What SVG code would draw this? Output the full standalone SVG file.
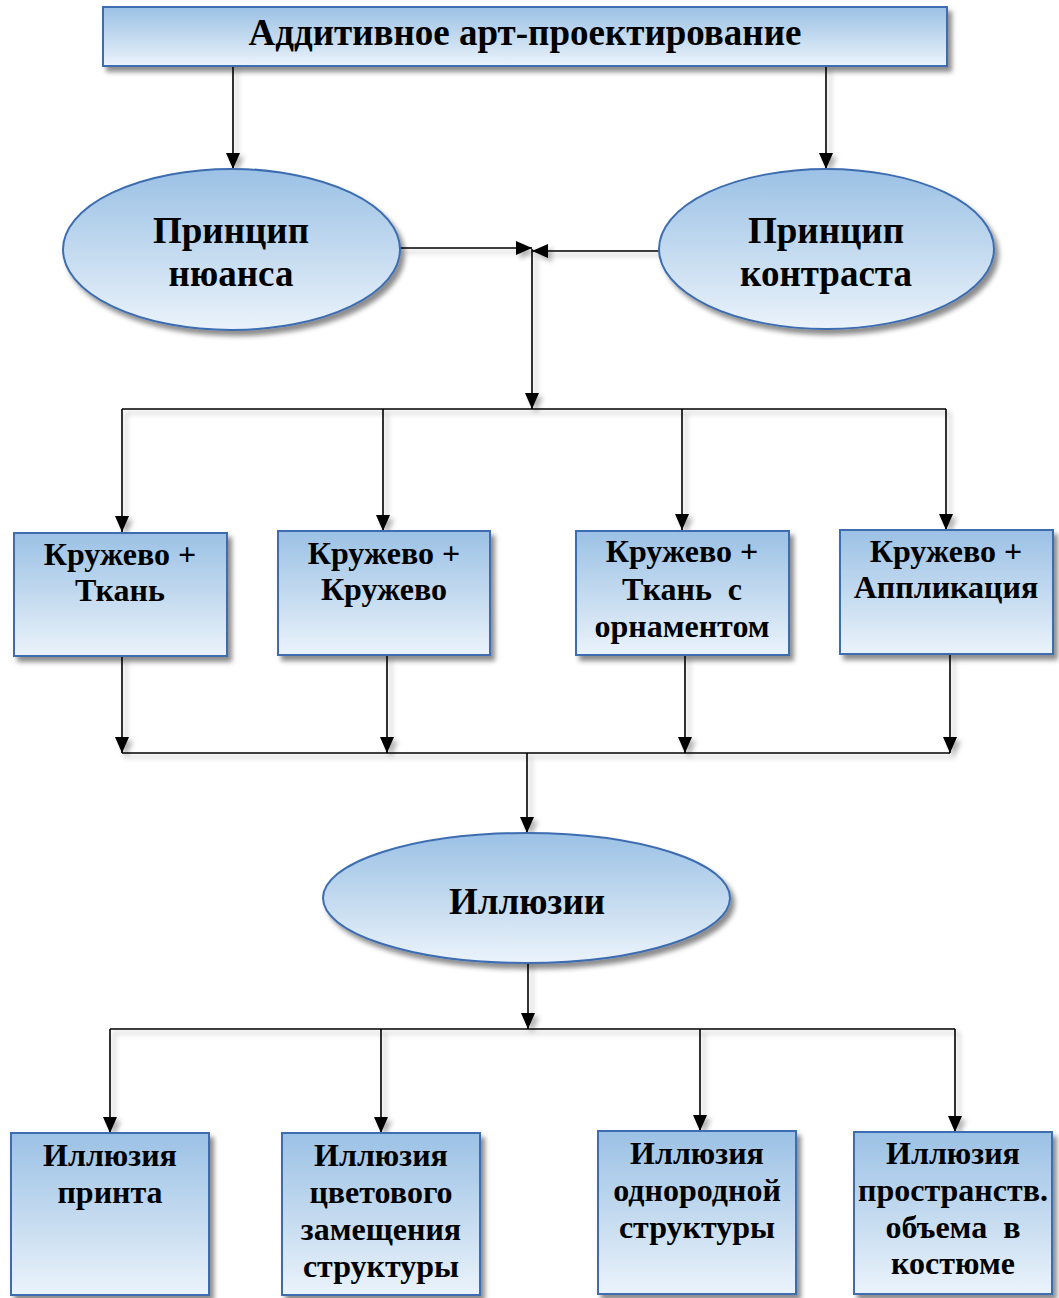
<svg xmlns="http://www.w3.org/2000/svg" width="1059" height="1298" viewBox="0 0 1059 1298">
  <defs>
    <linearGradient id="fill" x1="0" y1="0" x2="0" y2="1">
      <stop offset="0" stop-color="#9bc1e5"/>
      <stop offset="0.55" stop-color="#c6dcf0"/>
      <stop offset="1" stop-color="#ebf3fb"/>
    </linearGradient>
    <filter id="shadow" x="-10%" y="-10%" width="125%" height="130%">
      <feDropShadow dx="4" dy="5" stdDeviation="2.5" flood-color="#000" flood-opacity="0.45"/>
    </filter>
    <filter id="lineShadow" x="-5%" y="-5%" width="110%" height="110%">
      <feDropShadow dx="4" dy="4" stdDeviation="2.5" flood-color="#000" flood-opacity="0.3"/>
    </filter>
    <marker id="arrow" viewBox="0 0 16 14" refX="16" refY="7" markerWidth="16" markerHeight="14" markerUnits="userSpaceOnUse" orient="auto">
      <path d="M0,0 L16,7 L0,14 Z" fill="#000"/>
    </marker>
  </defs>
  <style>
    .shape { fill: url(#fill); stroke: #3d6db0; stroke-width: 2; filter: url(#shadow); }
    .lbl { font-family: "Liberation Serif", "Times New Roman", serif; font-weight: bold; fill: #000; text-anchor: middle; white-space: pre; }
    .big { font-size: 37px; }
    .mid { font-size: 32px; }
    .conn line { stroke: #000; stroke-width: 1.6; fill: none; }
  </style>

  <rect width="1059" height="1298" fill="#fff"/>

  <!-- connectors -->
  <g id="connectors" class="conn" filter="url(#lineShadow)">
    <line x1="233" y1="66" x2="233" y2="169" marker-end="url(#arrow)"/>
    <line x1="826" y1="66" x2="826" y2="169" marker-end="url(#arrow)"/>
    <line x1="400" y1="248" x2="532" y2="248" marker-end="url(#arrow)"/>
    <line x1="659" y1="251" x2="532" y2="251" marker-end="url(#arrow)"/>
    <line x1="532" y1="249" x2="532" y2="409" marker-end="url(#arrow)"/>
    <line x1="122" y1="409" x2="946" y2="409"/>
    <line x1="122" y1="409" x2="122" y2="532" marker-end="url(#arrow)"/>
    <line x1="383" y1="409" x2="383" y2="531" marker-end="url(#arrow)"/>
    <line x1="682" y1="409" x2="682" y2="530" marker-end="url(#arrow)"/>
    <line x1="946" y1="409" x2="946" y2="530" marker-end="url(#arrow)"/>
    <line x1="122" y1="656" x2="122" y2="753" marker-end="url(#arrow)"/>
    <line x1="387" y1="655" x2="387" y2="753" marker-end="url(#arrow)"/>
    <line x1="685" y1="655" x2="685" y2="753" marker-end="url(#arrow)"/>
    <line x1="950" y1="654" x2="950" y2="753" marker-end="url(#arrow)"/>
    <line x1="122" y1="753" x2="950" y2="753"/>
    <line x1="527" y1="753" x2="527" y2="833" marker-end="url(#arrow)"/>
    <line x1="528" y1="962" x2="528" y2="1029" marker-end="url(#arrow)"/>
    <line x1="110" y1="1029" x2="955" y2="1029"/>
    <line x1="110" y1="1029" x2="110" y2="1133" marker-end="url(#arrow)"/>
    <line x1="381" y1="1029" x2="381" y2="1133" marker-end="url(#arrow)"/>
    <line x1="700" y1="1029" x2="700" y2="1131" marker-end="url(#arrow)"/>
    <line x1="955" y1="1029" x2="955" y2="1132" marker-end="url(#arrow)"/>
  </g>

  <!-- top title -->
  <g id="node-title">
    <rect class="shape" x="103" y="7" width="844" height="59"/>
    <text class="lbl big" x="525" y="45">Аддитивное арт-проектирование</text>
  </g>

  <!-- principles -->
  <g id="node-nuance">
    <ellipse class="shape" cx="231.5" cy="249.5" rx="168.5" ry="80.5"/>
    <text class="lbl big" x="231" y="243">Принцип</text>
    <text class="lbl big" x="231" y="286">нюанса</text>
  </g>
  <g id="node-contrast">
    <ellipse class="shape" cx="826.5" cy="249" rx="167.5" ry="80"/>
    <text class="lbl big" x="826" y="243">Принцип</text>
    <text class="lbl big" x="826" y="286">контраста</text>
  </g>

  <!-- combinations -->
  <g id="node-lace-fabric">
    <rect class="shape" x="14" y="533" width="213" height="123"/>
    <text class="lbl mid" x="120" y="565">Кружево +</text>
    <text class="lbl mid" x="120" y="601">Ткань</text>
  </g>
  <g id="node-lace-lace">
    <rect class="shape" x="278" y="531" width="212" height="124"/>
    <text class="lbl mid" x="384" y="564">Кружево +</text>
    <text class="lbl mid" x="384" y="600">Кружево</text>
  </g>
  <g id="node-lace-ornament">
    <rect class="shape" x="576" y="531" width="213" height="124"/>
    <text class="lbl mid" x="682" y="562">Кружево +</text>
    <text class="lbl mid" x="682" y="600">Ткань  с</text>
    <text class="lbl mid" x="682" y="637">орнаментом</text>
  </g>
  <g id="node-lace-applique">
    <rect class="shape" x="840" y="530" width="213" height="124"/>
    <text class="lbl mid" x="946" y="562">Кружево +</text>
    <text class="lbl mid" x="946" y="598">Аппликация</text>
  </g>

  <!-- illusions -->
  <g id="node-illusions">
    <ellipse class="shape" cx="526.5" cy="898" rx="203.5" ry="65"/>
    <text class="lbl big" x="527" y="914">Иллюзии</text>
  </g>

  <g id="node-print">
    <rect class="shape" x="11" y="1133" width="198" height="162"/>
    <text class="lbl mid" x="110" y="1166">Иллюзия</text>
    <text class="lbl mid" x="110" y="1203">принта</text>
  </g>
  <g id="node-color">
    <rect class="shape" x="282" y="1133" width="198" height="162"/>
    <text class="lbl mid" x="381" y="1166">Иллюзия</text>
    <text class="lbl mid" x="381" y="1203">цветового</text>
    <text class="lbl mid" x="381" y="1240">замещения</text>
    <text class="lbl mid" x="381" y="1277">структуры</text>
  </g>
  <g id="node-uniform">
    <rect class="shape" x="598" y="1131" width="198" height="163"/>
    <text class="lbl mid" x="697" y="1164">Иллюзия</text>
    <text class="lbl mid" x="697" y="1201">однородной</text>
    <text class="lbl mid" x="697" y="1238">структуры</text>
  </g>
  <g id="node-volume">
    <rect class="shape" x="854" y="1132" width="198" height="162"/>
    <text class="lbl mid" x="953" y="1164">Иллюзия</text>
    <text class="lbl mid" x="953" y="1201">пространств.</text>
    <text class="lbl mid" x="953" y="1238">объема  в</text>
    <text class="lbl mid" x="953" y="1274">костюме</text>
  </g>
</svg>
